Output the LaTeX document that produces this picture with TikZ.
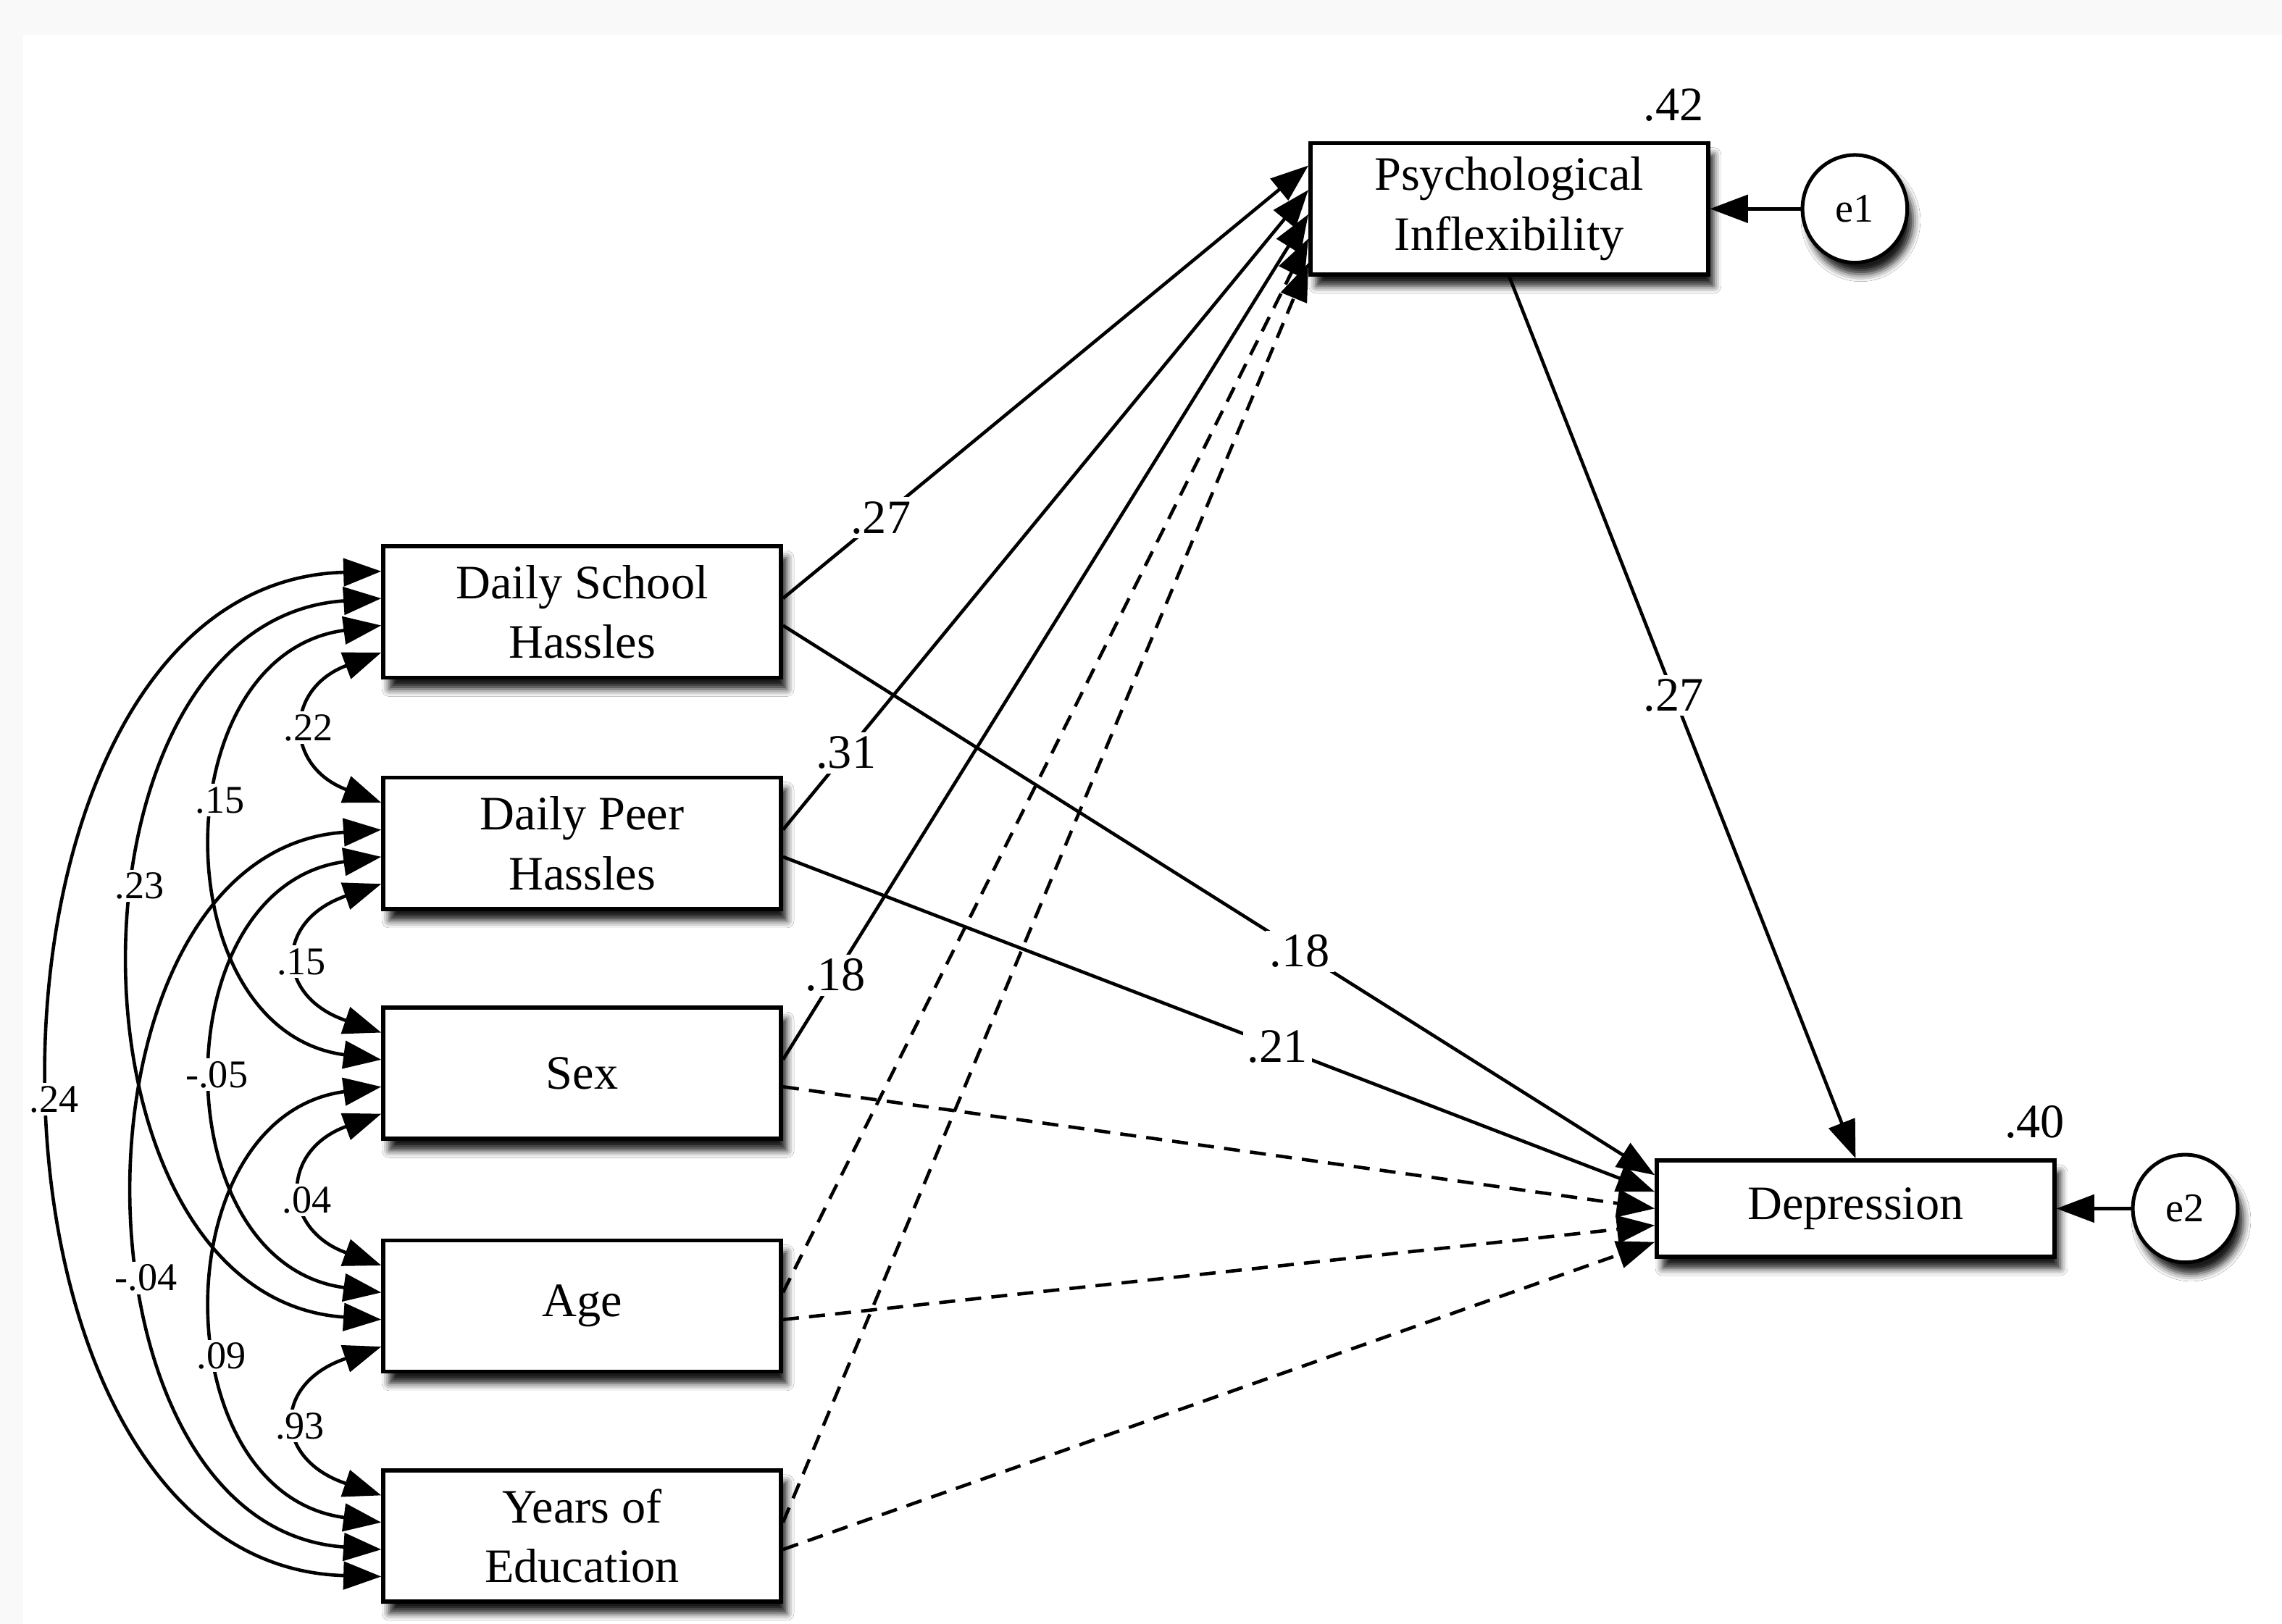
\documentclass[tikz,border=0pt]{standalone}
\usepackage{fontspec}
\setmainfont{Liberation Serif}
\usetikzlibrary{arrows.meta,shapes.geometric,shadows.blur,calc}
\newcommand\covar[6]{%
  \draw[cov] (#1) .. controls ($(#1)+(-#3,#4)$) and ($(#2)+(-#3,-#4)$) .. node[clab,pos=#5]{#6} (#2);}
\begin{document}
\begin{tikzpicture}[x=1pt,y=-1pt,
  box/.style={draw=black, line width=2.8pt, fill=white, minimum width=273.2pt,
    minimum height=90.2pt, inner sep=0pt, align=center,
    font=\fontsize{33}{41}\selectfont,
    blur shadow={shadow xshift=4pt, shadow yshift=-8pt, shadow blur radius=5pt, shadow opacity=90}},
  err/.style={draw=black, ellipse, line width=2.5pt, fill=white, minimum width=72pt,
    minimum height=74pt, inner sep=0pt, font=\fontsize{28}{30}\selectfont,
    blur shadow={shadow xshift=4pt, shadow yshift=-8pt, shadow blur radius=5pt, shadow opacity=90}},
  reg/.style={line width=2.3pt, -{Triangle[length=26pt,width=19pt]}},
  regd/.style={reg, dash pattern=on 11pt off 7pt},
  cov/.style={line width=2.3pt, {Triangle[length=26pt,width=19pt]}-{Triangle[length=26pt,width=19pt]}},
  plab/.style={fill=white, inner sep=3pt, font=\fontsize{33}{36}\selectfont},
  clab/.style={fill=white, inner sep=2pt, font=\fontsize{27}{30}\selectfont},
  rsq/.style={inner sep=0pt, font=\fontsize{33}{36}\selectfont}
]
\useasboundingbox (0,0) rectangle (1568,1116);
\fill[black!2.5] (0,0) rectangle (1568,1116);
\fill[white] (16,24) rectangle (1568,1116);

% nodes
\node[box] (dsh) at (400,420.5) {Daily School\\Hassles};
\node[box] (dph) at (400,579.5) {Daily Peer\\Hassles};
\node[box] (sex) at (400,737.5) {Sex};
\node[box] (age) at (400,897.5) {Age};
\node[box] (yoe) at (400,1055.5) {Years of\\Education};
\node[box] (pi) at (1037,143.5) {Psychological\\Inflexibility};
\node[box, minimum height=66.2pt] (dep) at (1275,830.5) {Depression};
\node[err] (e1) at (1274.5,143.5) {e1};
\node[err] (e2) at (1501.5,830.5) {e2};
\node[rsq] (r1) at (1150,72) {.42};
\node[rsq] (r2) at (1398,771) {.40};

% ports
\foreach \n in {dsh,dph,sex,age,yoe}{
  \foreach \k in {1,2,3,4}{
    \coordinate (\n-L\k) at ($(\n.north west)!{\k/5}!(\n.south west)$);
  }
  \coordinate (\n-R1) at ($(\n.north east)!0.4!(\n.south east)$);
  \coordinate (\n-R2) at ($(\n.north east)!0.6!(\n.south east)$);
}
\coordinate (pi-L1) at ($(pi.north west)!0.18!(pi.south west)$);
\coordinate (pi-L2) at ($(pi.north west)!0.36!(pi.south west)$);
\coordinate (pi-L3) at ($(pi.north west)!0.54!(pi.south west)$);
\coordinate (pi-L4) at ($(pi.north west)!0.72!(pi.south west)$);
\coordinate (pi-L5) at ($(pi.north west)!0.90!(pi.south west)$);
\foreach \k in {1,...,5}{
  \coordinate (dep-L\k) at ($(dep.north west)!{\k/6}!(dep.south west)$);
}

% covariances
\covar{dsh-L1}{yoe-L4}{300}{8}{0.517}{.24}
\covar{dsh-L2}{age-L3}{226}{15}{0.43}{.23}
\covar{dph-L2}{yoe-L3}{222}{15}{0.585}{-.04}
\covar{dsh-L3}{sex-L2}{150.7}{20}{0.43}{.15}
\covar{dph-L3}{age-L2}{150.7}{20}{0.5}{-.05}
\covar{sex-L3}{yoe-L2}{150.7}{20}{0.585}{.09}
\covar{dsh-L4}{dph-L1}{66.7}{25}{0.5}{.22}
\covar{dph-L4}{sex-L1}{73.3}{25}{0.52}{.15}
\covar{sex-L4}{age-L1}{69.3}{25}{0.56}{.04}
\covar{age-L4}{yoe-L1}{74.7}{25}{0.53}{.93}

% regressions
\draw[reg] (dsh-R1) -- node[plab,pos=.186]{.27} (pi-L1);
\draw[reg] (dph-R1) -- node[plab,pos=.12]{.31} (pi-L2);
\draw[reg] (sex-R1) -- node[plab,pos=.10]{.18} (pi-L3);
\draw[regd] (age-R1) -- (pi-L4);
\draw[regd] (yoe-R1) -- (pi-L5);
\draw[reg] (dsh-R2) -- node[plab,pos=.593]{.18} (dep-L1);
\draw[reg] (dph-R2) -- node[plab,pos=.567]{.21} (dep-L2);
\draw[regd] (sex-R2) -- (dep-L3);
\draw[regd] (age-R2) -- (dep-L4);
\draw[regd] (yoe-R2) -- (dep-L5);
\draw[reg] (pi.south) -- node[plab,pos=.475]{.27} (dep.north);
\draw[reg] (e1.west) -- (pi.east);
\draw[reg] (e2.west) -- (dep.east);
\end{tikzpicture}
\end{document}
